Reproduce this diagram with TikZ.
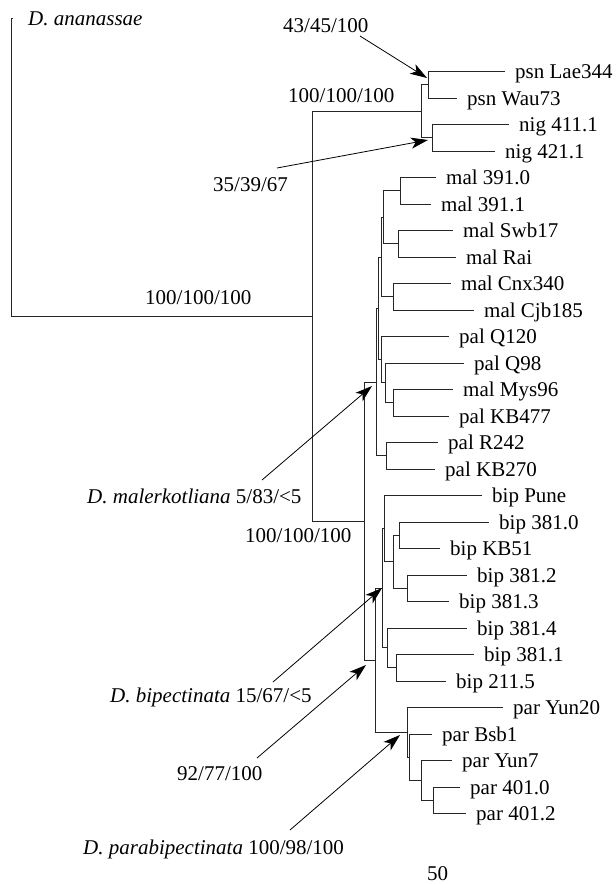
\documentclass[tikz,border=0pt]{standalone}
\usepackage{fontspec}
\setmainfont{Liberation Serif}
\usetikzlibrary{arrows.meta}
\begin{document}
\begin{tikzpicture}[x=1pt,y=-1pt,
  br/.style={line width=0.9pt, black!85},
  lab/.style={anchor=base west, inner sep=0pt, font=\fontsize{21}{25}\selectfont},
  ann/.style={line width=0.8pt, black, -{Stealth[length=17pt,width=11pt,inset=4.5pt]}}]
\useasboundingbox (0,0) rectangle (616,884);
\newcommand\mkleaf[5]{%
  \coordinate (#1) at (#3,#4);
  \draw[br] (#2) |- (#1);
  \node[lab] (#1l) at (#3+10,#4+7) {#5};}
\newcommand\mkedge[2]{\draw[br] (#1) |- (#2);}
% internal nodes
\coordinate (root) at (11,316.2);
\coordinate (ana) at (13,18);
\coordinate (R1) at (312,316.2);
\coordinate (PN) at (421,111.25);
\coordinate (psn) at (428,84.75);
\coordinate (nig) at (432,137.75);
\coordinate (X) at (364,521.2);
\coordinate (P) at (376,382);
\coordinate (Q) at (378,308.3);
\coordinate (A) at (381,257);
\coordinate (F) at (383,217.25);
\coordinate (G) at (400,190.75);
\coordinate (H) at (398,243.75);
\coordinate (Cnx) at (393,296.75);
\coordinate (C) at (381,359.7);
\coordinate (D) at (385,382.9);
\coordinate (E) at (393,402.75);
\coordinate (RK) at (386,455.75);
\coordinate (Y) at (375,660.3);
\coordinate (N) at (382,588.25);
\coordinate (M) at (384,528.6);
\coordinate (K) at (393,561.75);
\coordinate (K1) at (399,535.25);
\coordinate (K2) at (407,588.25);
\coordinate (L) at (387,647.9);
\coordinate (L1) at (396,667.75);
\coordinate (PR) at (407,732.3);
\coordinate (BS) at (409,757.2);
\coordinate (Y7) at (421,780.4);
\coordinate (P4) at (433,800.25);
% internal edges
\mkedge{root}{ana}
\mkedge{root}{R1}
\mkedge{R1}{PN}
\mkedge{R1}{X}
\mkedge{PN}{psn}
\mkedge{PN}{nig}
\mkedge{X}{P}
\mkedge{X}{Y}
\mkedge{P}{Q}
\mkedge{P}{RK}
\mkedge{Q}{A}
\mkedge{Q}{C}
\mkedge{A}{F}
\mkedge{A}{Cnx}
\mkedge{F}{G}
\mkedge{F}{H}
\mkedge{C}{D}
\mkedge{D}{E}
\mkedge{Y}{N}
\mkedge{Y}{PR}
\mkedge{N}{M}
\mkedge{N}{L}
\mkedge{M}{K}
\mkedge{K}{K1}
\mkedge{K}{K2}
\mkedge{L}{L1}
\mkedge{PR}{BS}
\mkedge{BS}{Y7}
\mkedge{Y7}{P4}
% leaves
\mkleaf{t0}{psn}{505}{71.5}{psn Lae344}
\mkleaf{t1}{psn}{457}{98}{psn Wau73}
\mkleaf{t2}{nig}{509}{124.5}{nig 411.1}
\mkleaf{t3}{nig}{495}{151}{nig 421.1}
\mkleaf{t4}{G}{436}{177.5}{mal 391.0}
\mkleaf{t5}{G}{431}{204}{mal 391.1}
\mkleaf{t6}{H}{453}{230.5}{mal Swb17}
\mkleaf{t7}{H}{456}{257}{mal Rai}
\mkleaf{t8}{Cnx}{451}{283.5}{mal Cnx340}
\mkleaf{t9}{Cnx}{474}{310}{mal Cjb185}
\mkleaf{t10}{C}{449}{336.5}{pal Q120}
\mkleaf{t11}{D}{464}{363}{pal Q98}
\mkleaf{t12}{E}{453}{389.5}{mal Mys96}
\mkleaf{t13}{E}{449}{416}{pal KB477}
\mkleaf{t14}{RK}{438}{442.5}{pal R242}
\mkleaf{t15}{RK}{435}{469}{pal KB270}
\mkleaf{t16}{M}{482}{495.5}{bip Pune}
\mkleaf{t17}{K1}{489}{522}{bip 381.0}
\mkleaf{t18}{K1}{440}{548.5}{bip KB51}
\mkleaf{t19}{K2}{467}{575}{bip 381.2}
\mkleaf{t20}{K2}{449}{601.5}{bip 381.3}
\mkleaf{t21}{L}{467}{628}{bip 381.4}
\mkleaf{t22}{L1}{474}{654.5}{bip 381.1}
\mkleaf{t23}{L1}{446}{681}{bip 211.5}
\mkleaf{t24}{PR}{503}{707.5}{par Yun20}
\mkleaf{t25}{BS}{432}{734}{par Bsb1}
\mkleaf{t26}{Y7}{452}{760.5}{par Yun7}
\mkleaf{t27}{P4}{460}{787}{par 401.0}
\mkleaf{t28}{P4}{466}{813.5}{par 401.2}
% outgroup label
\node[lab] (ananl) at (28,25) {\textit{D. ananassae}};
% support labels
\node[lab] (s1) at (283,32) {43/45/100};
\node[lab] (s2) at (288,102) {100/100/100};
\node[lab] (s3) at (213,191) {35/39/67};
\node[lab] (s4) at (145,304) {100/100/100};
\node[lab] (s5) at (87,503) {\textit{D. malerkotliana} 5/83/<5};
\node[lab] (s6) at (245,542) {100/100/100};
\node[lab] (s7) at (110,702) {\textit{D. bipectinata} 15/67/<5};
\node[lab] (s8) at (177,780) {92/77/100};
\node[lab] (s9) at (83,854) {\textit{D. parabipectinata} 100/98/100};
\node[lab] (scale) at (427,880) {50};
% arrows
\coordinate (a1s) at (360,36);  \coordinate (a1e) at (427,78);
\coordinate (a2s) at (277,168); \coordinate (a2e) at (428,140);
\coordinate (a3s) at (262,480); \coordinate (a3e) at (372,386);
\coordinate (a4s) at (273,682); \coordinate (a4e) at (382,588);
\coordinate (a5s) at (257,758); \coordinate (a5e) at (366,665);
\coordinate (a6s) at (290,830); \coordinate (a6e) at (400,735);
\draw[ann] (a1s) -- (a1e);
\draw[ann] (a2s) -- (a2e);
\draw[ann] (a3s) -- (a3e);
\draw[ann] (a4s) -- (a4e);
\draw[ann] (a5s) -- (a5e);
\draw[ann] (a6s) -- (a6e);
\end{tikzpicture}
\end{document}
